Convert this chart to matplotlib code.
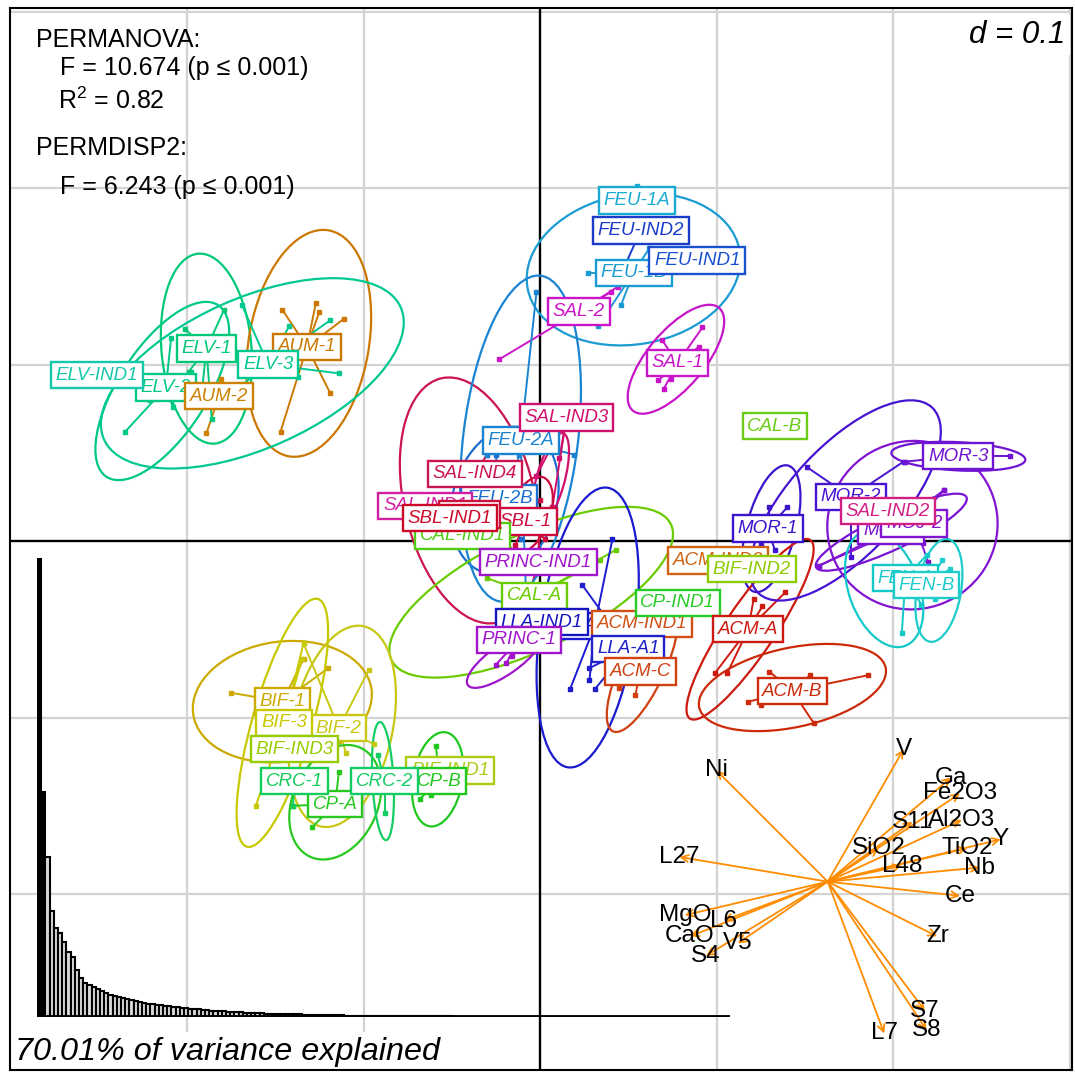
import matplotlib
matplotlib.use("Agg")
import matplotlib.pyplot as plt
from matplotlib.patches import Ellipse

plt.rcParams['font.family'] = ['Liberation Sans', 'DejaVu Sans']
plt.rcParams['mathtext.fontset'] = 'custom'
plt.rcParams['mathtext.rm'] = 'Liberation Sans'

# groups: label, colour, centroid
groups = ['ELV-2', 'ELV-IND1', 'AUM-2', 'ELV-1', 'AUM-1', 'ELV-3',
          'FEU-1A', 'FEU-IND2', 'FEU-1B', 'FEU-IND1', 'SAL-2', 'SAL-1',
          'FEU-2B', 'SAL-IND1', 'SAL-IND4', 'FEU-2A', 'SAL-IND3', 'SBL-1',
          'CAL-IND1', 'SBL-2', 'SBL-IND1', 'PRINC-IND1', 'CAL-A', 'LLA-A2',
          'LLA-IND1', 'PRINC-1', 'ACM-IND1', 'CP-IND1', 'LLA-A1', 'ACM-C',
          'ACM-IND2', 'BIF-IND2', 'MOR-1', 'ACM-A', 'ACM-B', 'CAL-B',
          'MOR-2', 'MOJ-1', 'MOJ-2', 'SAL-IND2', 'MOR-3', 'FEN-A', 'FEN-B',
          'BIF-1', 'BIF-2', 'BIF-3', 'BIF-IND3', 'BIF-IND1', 'CP-A',
          'CRC-1', 'CP-B', 'CRC-2']

colors = ['#00C887', '#14C8AA', '#CC8200', '#00C878', '#CC7800', '#00C890',
          '#18AAD2', '#1A3CC8', '#1A9CD2', '#1A50D2', '#CC14C8', '#C814C8',
          '#1A6ED2', '#D21EA0', '#CC1450', '#1A84D2', '#D0106C', '#CC0A3C',
          '#50CC14', '#CC1040', '#CC0A28', '#A014CC', '#6ACC00', '#1A1AD0',
          '#1414C0', '#A014CC', '#D05014', '#28CC28', '#2020CC', '#D04010',
          '#D06414', '#8CCC00', '#3C14CC', '#CC1A10', '#CC2A0A', '#6ACC14',
          '#4614D2', '#7814D2', '#8214D2', '#D21E82', '#6E14D2', '#14C8C8',
          '#1ECCCC', '#CCAA00', '#C8C814', '#C8C800', '#96CC00', '#AACC14',
          '#28C81E', '#14CC5A', '#1EC81E', '#14CC64']

cx = [-0.212, -0.251, -0.182, -0.189, -0.132, -0.154,
      0.055, 0.057, 0.053, 0.089, 0.022, 0.078,
      -0.023, -0.065, -0.037, -0.011, 0.015, -0.008,
      -0.044, -0.040, -0.051, -0.001, -0.003, 0.031,
      0.001, -0.012, 0.058, 0.078, 0.050, 0.057,
      0.101, 0.120, 0.129, 0.118, 0.143, 0.133,
      0.176, 0.199, 0.212, 0.197, 0.237, 0.207, 0.219,
      -0.146, -0.114, -0.145, -0.139, -0.051, -0.116,
      -0.139, -0.057, -0.088]
cy = [0.087, 0.094, 0.082, 0.109, 0.110, 0.100,
      0.193, 0.176, 0.152, 0.159, 0.130, 0.101,
      0.024, 0.020, 0.038, 0.057, 0.070, 0.011,
      0.003, 0.015, 0.013, -0.012, -0.031, -0.048,
      -0.046, -0.056, -0.047, -0.035, -0.061, -0.074,
      -0.011, -0.016, 0.007, -0.050, -0.085, 0.065,
      0.025, 0.006, 0.010, 0.017, 0.048, -0.021, -0.025,
      -0.091, -0.106, -0.103, -0.118, -0.130, -0.149,
      -0.136, -0.136, -0.136]

# sample scores of each group
samples = {
    'ELV-IND1': [(-0.251, 0.094)],
    'ELV-1': [(-0.179, 0.131), (-0.201, 0.120), (-0.199, 0.096), (-0.186, 0.069), (-0.192, 0.081)],
    'ELV-2': [(-0.235, 0.062), (-0.209, 0.115), (-0.208, 0.076), (-0.198, 0.096), (-0.221, 0.080)],
    'ELV-3': [(-0.169, 0.134), (-0.137, 0.093), (-0.119, 0.125), (-0.114, 0.095), (-0.142, 0.122), (-0.176, 0.083)],
    'AUM-1': [(-0.146, 0.131), (-0.127, 0.135), (-0.125, 0.130), (-0.111, 0.126), (-0.119, 0.084), (-0.147, 0.062)],
    'AUM-2': [(-0.189, 0.061), (-0.181, 0.092), (-0.180, 0.083)],
    'FEU-1A': [(0.055, 0.201)],
    'FEU-IND2': [(0.049, 0.158)],
    'FEU-IND1': [(0.089, 0.159)],
    'FEU-1B': [(0.027, 0.152), (0.033, 0.122), (0.046, 0.134), (0.062, 0.166)],
    'SAL-2': [(-0.023, 0.103), (0.040, 0.141), (0.044, 0.144)],
    'SAL-1': [(0.092, 0.121), (0.090, 0.110), (0.067, 0.091), (0.074, 0.092), (0.070, 0.086), (0.069, 0.114)],
    'FEU-2A': [(-0.002, 0.141), (-0.030, 0.049), (0.019, 0.049), (-0.012, 0.049), (-0.020, -0.011), (-0.008, -0.028)],
    'FEU-2B': [(-0.025, 0.049), (-0.011, 0.001), (-0.034, 0.012)],
    'SAL-IND3': [(-0.002, 0.037), (0.011, 0.047), (0.007, 0.019)],
    'SAL-IND4': [(-0.030, 0.049), (-0.046, 0.012), (-0.040, 0.023)],
    'SAL-IND1': [(-0.065, 0.020)],
    'SBL-2': [(-0.040, 0.015)],
    'SBL-IND1': [(-0.051, 0.013)],
    'SBL-1': [(0.000, 0.023), (-0.014, -0.002), (0.003, 0.001)],
    'CAL-IND1': [(-0.044, 0.003)],
    'PRINC-IND1': [(-0.001, -0.012)],
    'CAL-A': [(0.043, -0.005), (-0.030, -0.021), (0.034, -0.011), (-0.023, -0.040)],
    'LLA-IND1': [(0.001, -0.046)],
    'LLA-A2': [(0.041, 0.001), (0.017, -0.084), (0.028, -0.079)],
    'LLA-A1': [(0.024, -0.025), (0.028, -0.072), (0.031, -0.084)],
    'PRINC-1': [(-0.025, -0.070), (-0.019, -0.069), (-0.016, -0.065)],
    'ACM-IND1': [(0.058, -0.047)],
    'ACM-C': [(0.045, -0.083), (0.054, -0.087), (0.062, -0.062)],
    'ACM-IND2': [(0.101, -0.011)],
    'CP-IND1': [(0.078, -0.035)],
    'BIF-IND2': [(0.120, -0.016)],
    'ACM-A': [(0.139, -0.029), (0.121, -0.033), (0.126, -0.037), (0.099, -0.075), (0.106, -0.075)],
    'ACM-B': [(0.186, -0.076), (0.153, -0.076), (0.130, -0.074), (0.118, -0.091), (0.125, -0.093), (0.155, -0.103)],
    'CAL-B': [(0.133, 0.065)],
    'MOR-1': [(0.130, 0.019), (0.140, 0.019), (0.125, -0.002), (0.133, -0.005)],
    'MOR-2': [(0.151, 0.042), (0.206, 0.045), (0.176, -0.009)],
    'MOR-3': [(0.207, 0.045), (0.266, 0.048)],
    'MOJ-2': [(0.229, 0.029), (0.217, -0.001), (0.220, -0.012), (0.158, -0.014)],
    'MOJ-1': [(0.158, -0.014), (0.229, 0.029), (0.181, 0.001)],
    'SAL-IND2': [(0.197, 0.017)],
    'FEN-A': [(0.205, -0.052), (0.216, -0.036), (0.219, -0.008)],
    'FEN-B': [(0.224, -0.033), (0.232, -0.016), (0.228, -0.011)],
    'BIF-1': [(-0.175, -0.086), (-0.120, -0.072), (-0.134, -0.067)],
    'BIF-3': [(-0.134, -0.058), (-0.161, -0.150), (-0.135, -0.067)],
    'BIF-2': [(-0.097, -0.073), (-0.110, -0.120), (-0.094, -0.115), (-0.134, -0.058)],
    'BIF-IND3': [(-0.139, -0.118)],
    'CRC-1': [(-0.140, -0.150)],
    'CP-A': [(-0.114, -0.131), (-0.129, -0.162), (-0.140, -0.150)],
    'CRC-2': [(-0.092, -0.121), (-0.088, -0.154)],
    'CP-B': [(-0.059, -0.116), (-0.068, -0.146), (-0.062, -0.144)],
    'BIF-IND1': [(-0.051, -0.130)],
}

# dispersion ellipses: centre x, centre y, width, height, angle (deg)
ellipses = {
    'ELV-1': (-0.189, 0.109, 0.051, 0.108, 5),
    'ELV-2': (-0.214, 0.085, 0.116, 0.050, 57),
    'ELV-3': (-0.163, 0.095, 0.184, 0.085, 24),
    'AUM-1': (-0.131, 0.112, 0.068, 0.130, -10),
    'FEU-1B': (0.053, 0.154, 0.122, 0.085, 10),
    'SAL-1': (0.077, 0.103, 0.076, 0.032, 50),
    'FEU-2A': (-0.011, 0.058, 0.065, 0.186, -7),
    'FEU-2B': (-0.020, 0.023, 0.059, 0.085, -15),
    'SAL-IND3': (0.006, 0.035, 0.016, 0.054, -15),
    'SAL-IND4': (-0.040, 0.023, 0.074, 0.142, 13),
    'SBL-1': (-0.006, 0.015, 0.023, 0.045, -20),
    'CAL-A': (-0.005, -0.029, 0.176, 0.065, 26),
    'LLA-A2': (0.027, -0.049, 0.054, 0.160, -8),
    'PRINC-1': (-0.020, -0.067, 0.051, 0.017, 35),
    'ACM-C': (0.058, -0.072, 0.025, 0.079, -25),
    'ACM-A': (0.119, -0.050, 0.122, 0.028, 56),
    'ACM-B': (0.143, -0.083, 0.108, 0.045, 12),
    'MOR-1': (0.131, 0.007, 0.028, 0.074, -15),
    'MOR-2': (0.173, 0.023, 0.144, 0.062, 47),
    'MOR-3': (0.237, 0.048, 0.076, 0.016, -3),
    'MOJ-2': (0.211, 0.009, 0.097, 0.095, 30),
    'MOJ-1': (0.199, 0.005, 0.094, 0.020, 25),
    'FEN-A': (0.195, -0.027, 0.040, 0.069, 20),
    'FEN-B': (0.226, -0.028, 0.025, 0.059, -10),
    'BIF-1': (-0.146, -0.091, 0.102, 0.068, 8),
    'BIF-3': (-0.146, -0.103, 0.034, 0.146, -16),
    'BIF-2': (-0.112, -0.105, 0.057, 0.116, -12),
    'CP-A': (-0.116, -0.148, 0.048, 0.068, -25),
    'CRC-2': (-0.089, -0.136, 0.012, 0.067, 3),
    'CP-B': (-0.058, -0.135, 0.028, 0.054, -10),
}

# variable loadings (arrow tips), origin of the arrows
var_names = ['V', 'Ni', 'Ga', 'Fe2O3', 'S11', 'Al2O3', 'Y', 'SiO2', 'TiO2',
             'L48', 'Nb', 'Ce', 'Zr', 'S7', 'S8', 'L7', 'L27', 'MgO', 'L6',
             'CaO', 'V5', 'S4']
var_x = [0.206, 0.100, 0.233, 0.238, 0.211, 0.239, 0.261, 0.192, 0.242,
         0.205, 0.249, 0.238, 0.225, 0.218, 0.219, 0.195, 0.079, 0.082, 0.104,
         0.085, 0.112, 0.094]
var_y = [-0.118, -0.130, -0.134, -0.143, -0.159, -0.158, -0.169, -0.174, -0.174,
         -0.184, -0.185, -0.201, -0.224, -0.266, -0.277, -0.279, -0.179, -0.212, -0.215,
         -0.224, -0.228, -0.235]
arrow_origin = (0.163, -0.193)

# eigenvalues for the screeplot
eigenvalues = [459, 225, 160, 106, 89, 84, 75, 65, 60, 47, 39, 34,
               32, 30, 28, 26, 24, 22, 21, 20,
               19, 18, 17, 16, 15, 14, 13.5, 13, 12.5, 12,
               11.5, 11, 10.5, 10, 9.5, 9, 8.5, 8, 7.6, 7.2,
               6.8, 6.5, 6.2, 5.9, 5.6, 5.3, 5.0, 4.8, 4.6, 4.4,
               4.2, 4.0, 3.8, 3.6, 3.4, 3.3, 3.2, 3.1, 3.0, 2.9,
               2.8, 2.7, 2.6, 2.5, 2.4, 2.3, 2.2, 2.1, 2.0, 1.9,
               1.8, 1.7, 1.6, 1.5, 1.45, 1.4, 1.35, 1.3, 1.25, 1.2,
               1.15, 1.1, 1.05, 1.0, 0.95, 0.9, 0.85, 0.8, 0.75, 0.7,
               0.68, 0.66, 0.64, 0.62, 0.60, 0.58, 0.56, 0.54, 0.52, 0.50,
               0.48, 0.46, 0.45, 0.44, 0.42, 0.41, 0.40, 0.38, 0.37, 0.36,
               0.35, 0.34, 0.33, 0.32, 0.31, 0.30, 0.29, 0.28, 0.27, 0.26,
               0.25, 0.24, 0.23, 0.22, 0.21, 0.20, 0.19, 0.18, 0.17, 0.16,
               0.15, 0.15, 0.14, 0.14, 0.13, 0.13, 0.12, 0.12, 0.11, 0.11,
               0.10, 0.10, 0.09, 0.09, 0.08, 0.08, 0.07, 0.07, 0.06, 0.06,
               0.05, 0.05, 0.05, 0.04, 0.04, 0.04, 0.03, 0.03, 0.03, 0.02,
               0.02, 0.02, 0.01, 0.01, 0.01]

fig = plt.figure(figsize=(10.75, 10.72), dpi=100)
ax = fig.add_axes([10 / 1075, 2 / 1072, 1062 / 1075, 1062 / 1072])
ax.set_xlim(-0.3003, 0.3014)
ax.set_ylim(-0.2997, 0.302)
ax.set_xticks([])
ax.set_yticks([])
for s in ax.spines.values():
    s.set_linewidth(1.5)
    s.set_zorder(200)

# grid every d = 0.1 and the two axes
for g in [-0.2, -0.1, 0.1, 0.2, 0.3]:
    ax.axvline(g, color='#D3D3D3', lw=1.6, zorder=0)
    ax.axhline(g, color='#D3D3D3', lw=1.6, zorder=0)
ax.axvline(0, color='black', lw=1.7, zorder=1)
ax.axhline(0, color='black', lw=1.7, zorder=1)

for i, g in enumerate(groups):
    col = colors[i]
    if g in ellipses:
        ex, ey, w, h, a = ellipses[g]
        ax.add_patch(Ellipse((ex, ey), w, h, angle=a, fill=False,
                             ec=col, lw=1.6, zorder=2))
    for px, py in samples.get(g, []):
        ax.plot([cx[i], px], [cy[i], py], color=col, lw=1.4, zorder=2)
        ax.plot(px, py, 's', ms=3.5, color=col, zorder=3)

# variable arrows
for name, x, y in zip(var_names, var_x, var_y):
    ax.annotate('', xy=(x, y), xytext=arrow_origin,
                arrowprops=dict(arrowstyle='->,head_length=0.5,head_width=0.25',
                                color='#FF8C00', lw=1.3, shrinkA=0, shrinkB=0),
                zorder=4)
for name, x, y in zip(var_names, var_x, var_y):
    ax.text(x, y, name, ha='center', va='center', fontsize=17.5, color='black', zorder=5)

# group labels
for i, g in enumerate(groups):
    ax.text(cx[i], cy[i], g, ha='center', va='center', style='italic',
            fontsize=13.5, color=colors[i], zorder=10 + i,
            bbox=dict(boxstyle='square,pad=0.25', fc='white', ec=colors[i], lw=1.7))

# statistics
ax.text(0.0245, 0.970, 'PERMANOVA:', transform=ax.transAxes, fontsize=18, va='center')
ax.text(0.047, 0.9435, 'F = 10.674 (p \u2264 0.001)', transform=ax.transAxes,
        fontsize=18, va='center')
ax.text(0.045, 0.913, r'R$^2$ = 0.82', transform=ax.transAxes, fontsize=18, va='center')
ax.text(0.0245, 0.868, 'PERMDISP2:', transform=ax.transAxes, fontsize=18, va='center')
ax.text(0.047, 0.8315, 'F = 6.243 (p \u2264 0.001)', transform=ax.transAxes,
        fontsize=18, va='center')

ax.text(0.9934, 0.9746, 'd = 0.1', transform=ax.transAxes, ha='right', va='center',
        style='italic', fontsize=22.5, zorder=80,
        bbox=dict(boxstyle='square,pad=0.15', fc='white', ec='none'))
ax.text(0.0047, 0.017, '70.01% of variance explained', transform=ax.transAxes,
        ha='left', va='center', style='italic', fontsize=23.3, zorder=80,
        bbox=dict(boxstyle='square,pad=0.15', fc='white', ec='none'))

# screeplot of eigenvalues
ins = fig.add_axes([37 / 1075, 55 / 1072, 693 / 1075, 459 / 1072])
ins.patch.set_alpha(0)
n = len(eigenvalues)
bar_cols = ['black', 'black'] + ['#D9D9D9'] * (n - 2)
ins.bar(range(1, n + 1), eigenvalues, width=1.0, color=bar_cols,
        edgecolor='black', lw=1.5)
ins.axhline(0, color='black', lw=3.5)
ins.set_xlim(0.5, n + 0.5)
ins.set_ylim(0, max(eigenvalues))
ins.axis('off')

fig.savefig('out.png', dpi=100)
